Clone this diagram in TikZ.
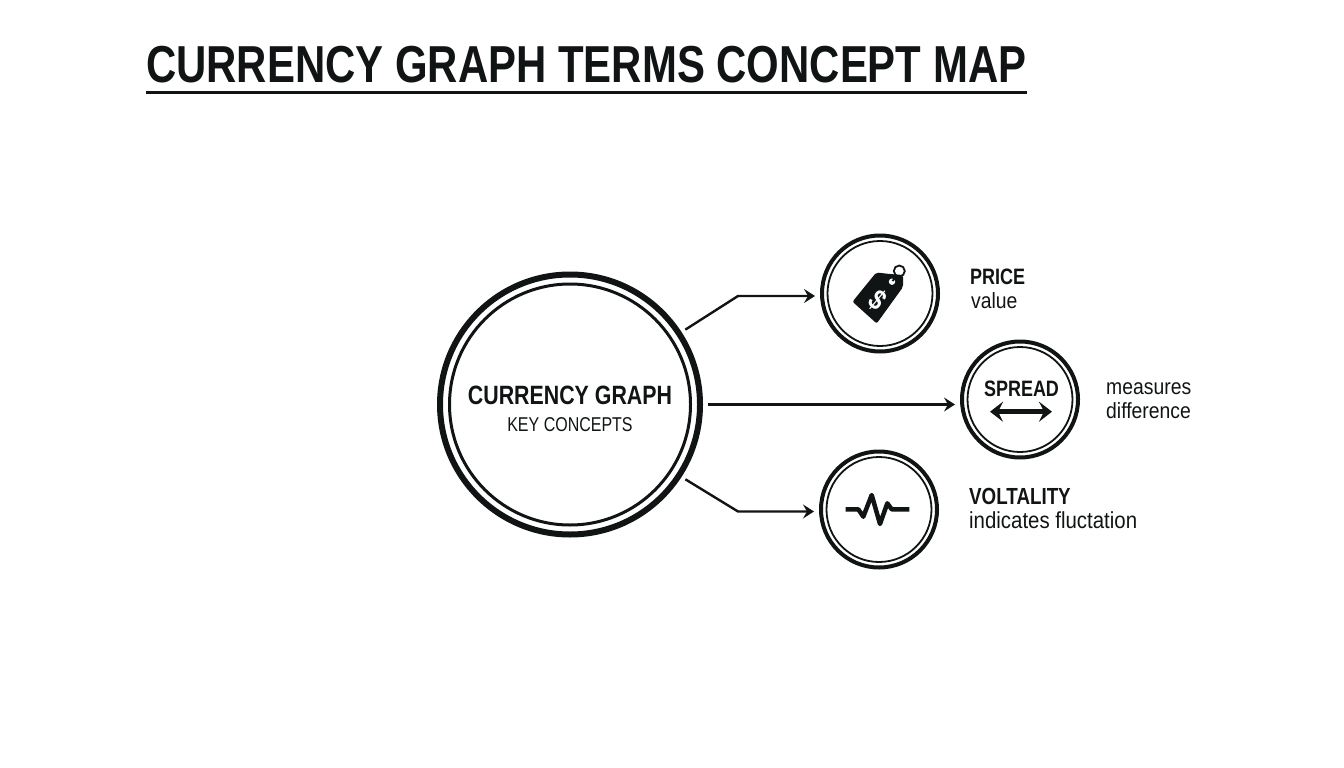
\documentclass[tikz,border=0pt]{standalone}
\usepackage{fontspec}
\usetikzlibrary{arrows.meta}
\setmainfont{Liberation Sans}
\newfontfamily\headfont[FakeStretch=0.806]{Liberation Sans Bold}
\newfontfamily\bodyfont[FakeStretch=0.88]{Liberation Sans}
\newfontfamily\subfont[FakeStretch=0.8]{Liberation Sans}
\definecolor{inkdark}{HTML}{111414}
\tikzset{
    outerring/.style={draw=inkdark, circle, line width=#1, inner sep=0pt},
    innerring/.style={draw=inkdark, circle, line width=#1, inner sep=0pt},
    link/.style={draw=inkdark, line width=2.4pt, -{Stealth[length=11pt, width=14pt, inset=4pt]}, shorten >= 5pt, shorten <= 4.5pt},
    headtext/.style={text=inkdark, inner sep=0pt, font=\headfont\fontsize{#1}{#1}\selectfont},
    bodytext/.style={text=inkdark, inner sep=0pt, font=\bodyfont\fontsize{#1}{#1}\selectfont},
}
\begin{document}
\begin{tikzpicture} [x=1pt, y=-1pt]
    \useasboundingbox (0,0) rectangle (1344,768);
    \node [headtext=52, anchor=base west] (title) at (146,82.5) {CURRENCY GRAPH TERMS CONCEPT MAP};
    \draw [draw=inkdark, line width=3pt] (146,92) -- (1027,92);

    \node [outerring=6pt, minimum size=260pt] (main) at (570,404.5) {};
    \node [innerring=3pt, minimum size=241pt] (maininner) at (main) {};
    \node [headtext=26.5, anchor=base] (mainhead) at (570,404) {CURRENCY GRAPH};
    \node [text=inkdark, inner sep=0pt, font=\subfont\fontsize{20}{20}\selectfont, anchor=base] (mainsub) at (570,431) {KEY CONCEPTS};

    \node [outerring=4pt, minimum size=116pt] (price) at (880,293.5) {};
    \node [innerring=1.8pt, minimum size=105pt] (priceinner) at (price) {};
    \node [outerring=4pt, minimum size=116pt] (spread) at (1020,399.5) {};
    \node [innerring=1.8pt, minimum size=105pt] (spreadinner) at (spread) {};
    \node [outerring=4pt, minimum size=116pt] (vol) at (879,509.5) {};
    \node [innerring=1.8pt, minimum size=105pt] (volinner) at (vol) {};

    \coordinate (priceelbow) at (738,296);
    \coordinate (volelbow) at (738,511.5);
    \draw [link] (main.33) -- (priceelbow) -- (priceelbow -| price.west);
    \draw [link] (main.east) -- (main.east -| spread.west);
    \draw [link] (main.-33) -- (volelbow) -- (volelbow -| vol.west);

    \draw [draw=inkdark, line width=1.8pt] (899.3,271) circle (5.5pt);
    \fill [inkdark, rounded corners=2pt] (876.2,272.5) -- (890,274) -- (903,275) -- (903,287) -- (876.7,323.5) -- (852.5,301.7) -- cycle;
    \fill [white] (892,281.7) circle (3.2pt);
    \draw [draw=inkdark, line width=1.8pt] (892.5,281) -- (897,276);
    \node [text=white, inner sep=0pt, rotate=-40, font=\headfont\fontsize{29}{29}\selectfont] (dollar) at (877.5,300) {\$};

    \node [headtext=22.3, anchor=base] (spreadhead) at (1021.5,396) {SPREAD};
    \draw [draw=inkdark, line width=4.5pt, {Stealth[length=13pt, width=20pt, inset=5pt]}-{Stealth[length=13pt, width=20pt, inset=5pt]}] (990,411.7) -- (1052,411.7);

    \draw [draw=inkdark, line width=4.5pt, line join=round] (845.7,509.3) -- (858.3,509.3) -- (863.3,516.7) -- (871.7,495) -- (880,524) -- (887.3,503.3) -- (891.7,509.3) -- (909.3,509.3);

    \node [headtext=22.3, anchor=base west] (pricehead) at (970,284) {PRICE};
    \node [bodytext=22, anchor=base west] (priceval) at (971,308) {value};
    \node [bodytext=22, anchor=base west] (spreadtop) at (1106,394) {measures};
    \node [bodytext=22, anchor=base west] (spreadbot) at (1106,418) {difference};
    \node [headtext=23.3, anchor=base west] (volhead) at (969,504) {VOLTALITY};
    \node [bodytext=23.2, anchor=base west] (volval) at (969,528) {indicates fluctation};
\end{tikzpicture}
\end{document}
